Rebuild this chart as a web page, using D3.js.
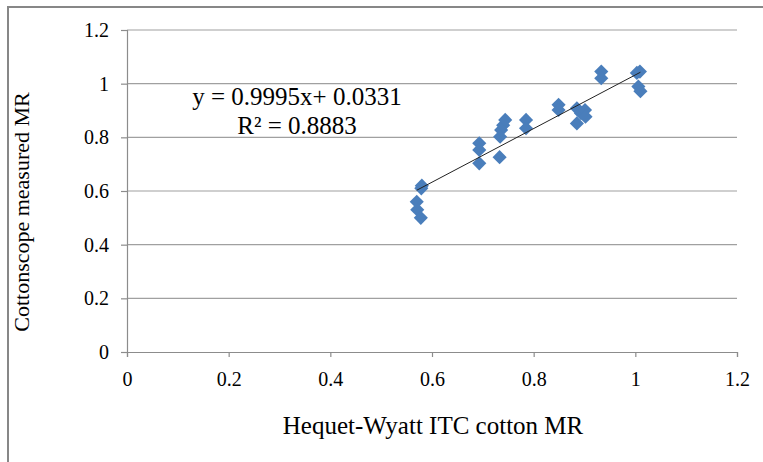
<!DOCTYPE html>
<html><head><meta charset="utf-8">
<script src="https://cdn.jsdelivr.net/npm/d3@7"></script>
<style>body{margin:0;background:#fff}svg{display:block}text{font-family:"Liberation Serif","Times New Roman",serif;fill:#000}</style>
</head><body><svg id="c" width="763" height="462"></svg>
<script>
const xValues = [0.570,0.571,0.578,0.579,0.580, 0.693,0.693,0.693, 0.733,0.734,0.736,0.740,0.744, 0.785,0.785, 0.849,0.849, 0.885,0.885,0.893,0.901,0.902, 0.933,0.933, 1.003,1.009,1.006,1.010];
const yValues = [0.560,0.530,0.500,0.610,0.620, 0.778,0.753,0.703, 0.726,0.802,0.827,0.845,0.865, 0.865,0.834, 0.921,0.902, 0.908,0.852,0.890,0.902,0.877, 1.045,1.020, 1.040,1.045,0.989,0.972];
const xTicks = [0,0.2,0.4,0.6,0.8,1,1.2];
const yTicks = [0,0.2,0.4,0.6,0.8,1,1.2];
const slope = 0.9995, intercept = 0.0331;
const eqLines = ["y = 0.9995x+ 0.0331", "R² = 0.8883"];

const svg = d3.select("#c");
const x = d3.scaleLinear().domain([0,1.2]).range([127,737]);
const y = d3.scaleLinear().domain([0,1.2]).range([352,30]);

svg.append("path").attr("d","M8,462 L8,7 L763,7").attr("fill","none").attr("stroke","#878787").attr("stroke-width",2);

svg.append("g").selectAll("line").data(yTicks.filter(d=>d>0)).join("line")
  .attr("x1",x(0)).attr("x2",x(1.2)).attr("y1",d=>y(d)).attr("y2",d=>y(d))
  .attr("stroke","#a0a0a0").attr("stroke-width",1.2);

const gx = svg.append("g").attr("transform",`translate(0,${y(0)})`)
  .call(d3.axisBottom(x).tickValues(xTicks).tickFormat(d=>String(d)).tickSize(5).tickPadding(15));
const gy = svg.append("g").attr("transform",`translate(${x(0)},0)`)
  .call(d3.axisLeft(y).tickValues(yTicks).tickFormat(d=>String(d)).tickSize(6).tickPadding(12));
[gx,gy].forEach(g=>{
  g.select(".domain").attr("stroke","#8c8c8c").attr("stroke-width",1.2);
  g.selectAll(".tick line").attr("stroke","#8c8c8c").attr("stroke-width",1.2);
  g.selectAll("text").attr("font-size",20).attr("font-family","Liberation Serif").attr("fill","#000");
});

const diamond = d3.symbol().type(d3.symbolSquare).size(100);
svg.append("g").selectAll("path").data(xValues.map((v,i)=>[v,yValues[i]])).join("path")
  .attr("d",diamond)
  .attr("transform",d=>`translate(${x(d[0])},${y(d[1])}) rotate(45)`)
  .attr("fill","#4a7ebb");

const x0 = d3.min(xValues), x1 = d3.max(xValues);
svg.append("line").attr("x1",x(x0)).attr("y1",y(slope*x0+intercept))
  .attr("x2",x(x1)).attr("y2",y(slope*x1+intercept)).attr("stroke","#222").attr("stroke-width",1);

svg.append("text").attr("x",297).attr("y",105).attr("text-anchor","middle").attr("font-size",25).text(eqLines[0]);
svg.append("text").attr("x",297).attr("y",134).attr("text-anchor","middle").attr("font-size",25).text(eqLines[1]);

svg.append("text").attr("x",433).attr("y",434).attr("text-anchor","middle").attr("font-size",25).text("Hequet-Wyatt ITC cotton MR");
svg.append("text").attr("transform","translate(29,212) rotate(-90)").attr("text-anchor","middle").attr("font-size",22).text("Cottonscope measured MR");
</script></body></html>
